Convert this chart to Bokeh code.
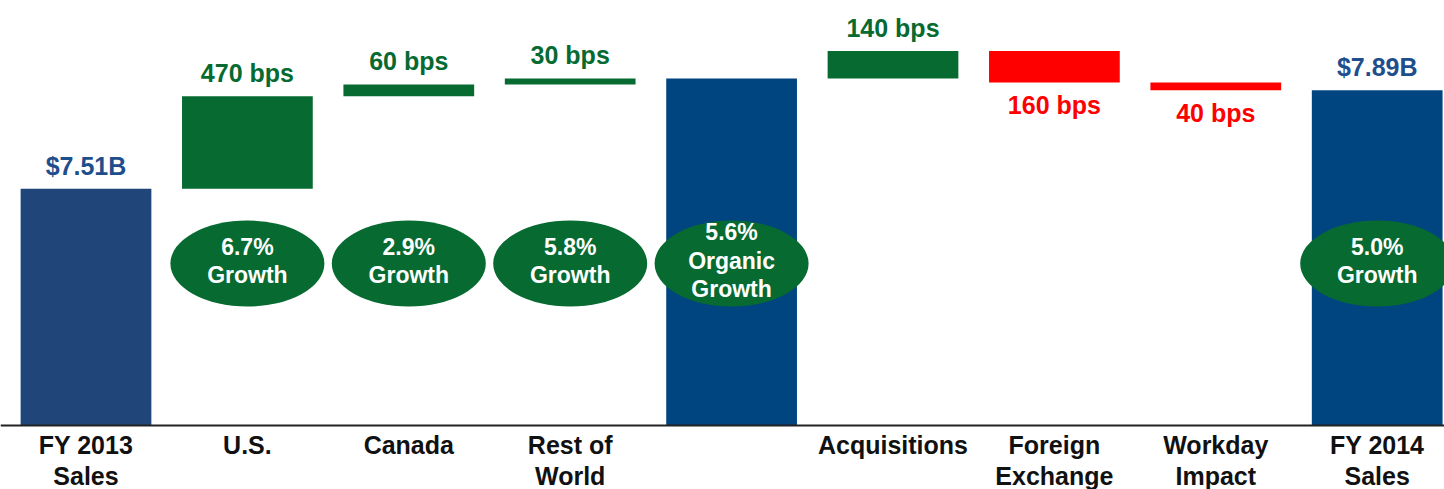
from bokeh.plotting import figure
from bokeh.models import Range1d, FixedTicker, ColumnDataSource
from bokeh.core.properties import value
from bokeh.embed import file_html
from bokeh.resources import INLINE

# ---------------- data ----------------
categories = ["FY 2013\nSales", "U.S.", "Canada", "Rest of\nWorld", "",
              "Acquisitions", "Foreign\nExchange", "Workday\nImpact", "FY 2014\nSales"]
bar_kind = ["total", "step", "step", "step", "subtotal", "step", "step", "step", "total"]
change_bps = [0, 470, 60, 30, 0, 140, -160, -40, 0]
start_sales_b = 7.51
sales_labels = ["$7.51B", "", "", "", "", "", "", "", "$7.89B"]
growth_labels = ["", "6.7%\nGrowth", "2.9%\nGrowth", "5.8%\nGrowth",
                 "5.6%\nOrganic\nGrowth", "", "", "", "5.0%\nGrowth"]

# ---------------- layout / style ----------------
Y_TOP, Y_BOTTOM = 8.2279, 6.3636   # visible value range of the canvas
Y_AXIS = 6.6076                    # value at which the category axis sits
ELLIPSE_Y = 7.225
FONT = "Liberation Sans"
BLUE_FIRST = "#1F4579"
BLUE = "#004480"
GREEN = "#066A31"
RED = "#FF0000"
LABEL_BLUE = "#1F4E8C"

# compute waterfall geometry
bottoms, tops, colors = [], [], []
running = start_sales_b
for i, (k, b) in enumerate(zip(bar_kind, change_bps)):
    if k == "total" and i == 0:
        bottoms.append(Y_AXIS); tops.append(start_sales_b); colors.append(BLUE_FIRST)
        running = start_sales_b
    elif k == "step":
        delta = start_sales_b * b / 10000.0
        bottoms.append(running); tops.append(running + delta)
        colors.append(GREEN if b > 0 else RED)
        running += delta
    else:
        bottoms.append(Y_AXIS); tops.append(running); colors.append(BLUE)

xs = list(range(len(categories)))
src = ColumnDataSource(dict(x=xs, bottom=bottoms, top=tops, color=colors))

p = figure(width=1444, height=489, x_range=Range1d(-0.5297, 8.417),
           y_range=Range1d(Y_BOTTOM, Y_TOP),
           output_backend="svg", toolbar_location=None,
           min_border_left=0, min_border_right=0, min_border_top=0, min_border_bottom=0)
p.outline_line_color = None
p.grid.visible = False
p.yaxis.visible = False
p.background_fill_color = "white"
p.border_fill_color = "white"

p.vbar(x="x", bottom="bottom", top="top", width=0.81, fill_color="color",
       line_color=None, source=src)

# x axis with category labels, fixed at the baseline value
ax = p.xaxis[0]
ax.fixed_location = Y_AXIS
ax.ticker = FixedTicker(ticks=xs)
ax.major_label_overrides = {i: c for i, c in enumerate(categories)}
ax.major_tick_line_color = None
ax.minor_tick_line_color = None
ax.axis_line_color = "#222222"
ax.axis_line_width = 2
ax.major_label_standoff = 0
ax.major_label_text_font = FONT
ax.major_label_text_font_style = "bold"
ax.major_label_text_font_size = "25px"
ax.major_label_text_color = "#111111"
ax.major_label_text_line_height = 1.1

# total labels (above)
tx, ty, tt = [], [], []
for i, s in enumerate(sales_labels):
    if s:
        tx.append(i); ty.append(tops[i]); tt.append(s)
p.text(x=tx, y=ty, text=tt, text_align="center", text_baseline="alphabetic", y_offset=-23,
       text_font=value(FONT), text_font_style="bold", text_font_size="25px",
       text_color=LABEL_BLUE)

# bps labels
ux, uy, ut, dx, dy, dt = [], [], [], [], [], []
for i, (k, b) in enumerate(zip(bar_kind, change_bps)):
    if k != "step":
        continue
    if b > 0:
        ux.append(i); uy.append(max(bottoms[i], tops[i])); ut.append(f"{abs(b)} bps")
    else:
        dx.append(i); dy.append(min(bottoms[i], tops[i])); dt.append(f"{abs(b)} bps")
p.text(x=ux, y=uy, text=ut, text_align="center", text_baseline="alphabetic", y_offset=-23,
       text_font=value(FONT), text_font_style="bold", text_font_size="25px", text_color=GREEN)
p.text(x=dx, y=dy, text=dt, text_align="center", text_baseline="alphabetic", y_offset=23,
       text_font=value(FONT), text_font_style="bold", text_font_size="25px", text_color=RED)

# growth ellipses
ex, et = [], []
for i, g in enumerate(growth_labels):
    if g:
        ex.append(i); et.append(g)
ey = [ELLIPSE_Y] * len(ex)
p.ellipse(x=ex, y=ey, width=154, height=86, width_units="screen", height_units="screen",
          fill_color=GREEN, line_color=None)
p.text(x=ex, y=ey, text=et, text_align="center", text_baseline="middle", y_offset=-3,
       text_font=value(FONT), text_font_style="bold", text_font_size="23px",
       text_color="white", text_line_height=1.08)

open("out.html", "w").write(file_html(p, INLINE))
